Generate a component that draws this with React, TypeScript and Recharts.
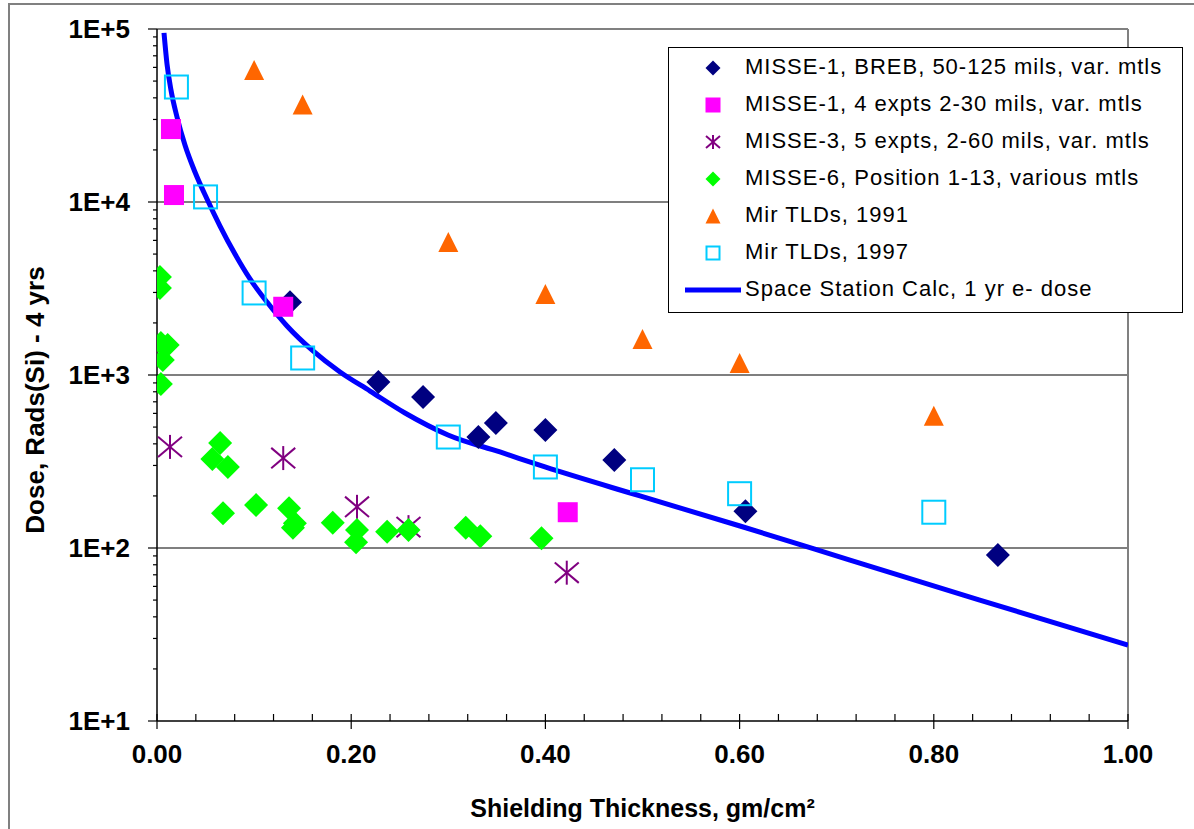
import React from "react";
import {
  ComposedChart,
  Scatter,
  Line,
  XAxis,
  YAxis,
  ReferenceLine,
} from "recharts";

// MISSE-1, BREB, 50-125 mils
const breb_x = [0.137, 0.228, 0.274, 0.331, 0.349, 0.4, 0.471, 0.606, 0.866];
const breb_y = [2630, 912, 746, 438, 528, 481, 323, 163, 91];

// MISSE-1, 4 expts 2-30 mils
const m1_x = [0.0144, 0.0175, 0.13, 0.423];
const m1_y = [26400, 10970, 2480, 161];

// MISSE-3, 5 expts
const m3_x = [0.0134, 0.13, 0.206, 0.259, 0.422];
const m3_y = [384, 331, 173, 132, 72];

// MISSE-6, position 1-13
const m6_x = [
  0.003, 0.003, 0.004, 0.011, 0.006, 0.004, 0.065, 0.057, 0.073, 0.068, 0.102,
  0.136, 0.142, 0.14, 0.181, 0.206, 0.205, 0.237, 0.259, 0.318, 0.333, 0.396,
];
const m6_y = [
  3680, 3180, 1530, 1490, 1220, 887, 404, 327, 294, 159, 177, 170, 139, 131,
  140, 127, 108, 124, 127, 131, 117, 114,
];

// Mir TLDs
const mir91_x = [0.1, 0.15, 0.3, 0.4, 0.5, 0.6, 0.8];
const mir91_y = [58000, 36600, 5870, 2940, 1615, 1173, 582];
const mir97_x = [0.02, 0.05, 0.1, 0.15, 0.3, 0.4, 0.5, 0.6, 0.8];
const mir97_y = [46200, 10700, 2980, 1254, 438, 294, 248, 206, 161];

// Space Station calc, 1 yr e- dose
const calc_x = [
  0.0072, 0.0103, 0.0144, 0.0206, 0.0288, 0.0391, 0.0515, 0.0649, 0.0803,
  0.0958, 0.1133, 0.1339, 0.1607, 0.1885, 0.2194, 0.2554, 0.2997, 0.3532,
  0.3996, 0.4974, 0.6004, 0.7137, 0.8465, 1.0,
];
const calc_y = [
  95000, 62800, 44400, 31000, 21350, 14900, 10400, 7260, 5000, 3590, 2640,
  1920, 1377, 1040, 808, 603, 450, 359, 294, 200, 134, 85.2, 50.1, 27.5,
];

const xTicks = [
  0, 0.04, 0.08, 0.12, 0.16, 0.2, 0.24, 0.28, 0.32, 0.36, 0.4, 0.44, 0.48,
  0.52, 0.56, 0.6, 0.64, 0.68, 0.72, 0.76, 0.8, 0.84, 0.88, 0.92, 0.96, 1,
];
const yTicks = [
  10, 20, 30, 40, 50, 60, 70, 80, 90, 100, 200, 300, 400, 500, 600, 700, 800,
  900, 1000, 2000, 3000, 4000, 5000, 6000, 7000, 8000, 9000, 10000, 20000,
  30000, 40000, 50000, 60000, 70000, 80000, 90000, 100000,
];
const yGrid = [100, 1000, 10000];

const FONT = "Arial, 'Liberation Sans', sans-serif";

const pts = (xs: number[], ys: number[]) => xs.map((x, i) => ({ x, y: ys[i] }));

const isMajorX = (v: number) => Math.abs(v * 5 - Math.round(v * 5)) < 1e-6;
const isMajorY = (v: number) => Math.abs(Math.log10(v) - Math.round(Math.log10(v))) < 1e-6;

function XTick(props: any) {
  const { x, y, payload } = props;
  const axisY = y - 8 - 16;
  const major = isMajorX(payload.value);
  return (
    <g>
      <line x1={x} x2={x} y1={axisY - 7} y2={major ? axisY + 8 : axisY} stroke="#000" strokeWidth={1.2} />
      {major && (
        <text x={x} y={y} dy="0.71em" textAnchor="middle" fontFamily={FONT} fontWeight="bold" fontSize={26} fill="#000">
          {payload.value.toFixed(2)}
        </text>
      )}
    </g>
  );
}

function YTick(props: any) {
  const { x, y, payload } = props;
  const axisX = x + 18 + 9;
  const major = isMajorY(payload.value);
  return (
    <g>
      <line x1={major ? axisX - 9 : axisX - 4} x2={axisX} y1={y} y2={y} stroke="#000" strokeWidth={1.2} />
      {major && (
        <text x={x} y={y} dy="0.36em" textAnchor="end" fontFamily={FONT} fontWeight="bold" fontSize={26} fill="#000">
          {"1E+" + Math.round(Math.log10(payload.value))}
        </text>
      )}
    </g>
  );
}

const Diamond = (color: string, r: number) => (p: any) => (
  <polygon
    points={`${p.cx},${p.cy - r} ${p.cx + r},${p.cy} ${p.cx},${p.cy + r} ${p.cx - r},${p.cy}`}
    fill={color}
  />
);
const Square = (color: string, s: number) => (p: any) => (
  <rect x={p.cx - s / 2} y={p.cy - s / 2} width={s} height={s} fill={color} />
);
const OpenSquare = (color: string, s: number) => (p: any) => (
  <rect x={p.cx - s / 2} y={p.cy - s / 2} width={s} height={s} fill="none" stroke={color} strokeWidth={2} />
);
const Triangle = (color: string, s: number) => (p: any) => (
  <polygon
    points={`${p.cx},${p.cy - s / 2} ${p.cx + s / 2},${p.cy + s / 2} ${p.cx - s / 2},${p.cy + s / 2}`}
    fill={color}
  />
);
const Asterisk = (color: string, r: number) => (p: any) => (
  <g stroke={color} strokeWidth={2}>
    <line x1={p.cx} x2={p.cx} y1={p.cy - r} y2={p.cy + r} />
    <line x1={p.cx - r} x2={p.cx + r} y1={p.cy - r * 0.85} y2={p.cy + r * 0.85} />
    <line x1={p.cx - r} x2={p.cx + r} y1={p.cy + r * 0.85} y2={p.cy - r * 0.85} />
  </g>
);

const legendItems = [
  { label: "MISSE-1, BREB, 50-125 mils, var. mtls", icon: Diamond("#000080", 7.5) },
  { label: "MISSE-1, 4 expts 2-30 mils, var. mtls", icon: Square("#FF00FF", 15) },
  { label: "MISSE-3, 5 expts, 2-60 mils, var. mtls", icon: Asterisk("#800080", 7) },
  { label: "MISSE-6, Position 1-13, various mtls", icon: Diamond("#00FF00", 7.5) },
  { label: "Mir TLDs, 1991", icon: Triangle("#FF6600", 15) },
  { label: "Mir TLDs, 1997", icon: OpenSquare("#00CCFF", 13) },
  { label: "Space Station Calc, 1 yr e- dose", icon: null },
];

function ChartLegend() {
  return (
    <div
      style={{
        position: "absolute",
        left: 668,
        top: 47,
        width: 513,
        height: 264,
        border: "1px solid #000",
        background: "#fff",
        fontFamily: FONT,
        fontSize: 22,
        color: "#000",
      }}
    >
      {legendItems.map((it, i) => (
        <div key={it.label} style={{ position: "absolute", left: 0, top: 2 + i * 37, height: 37, width: "100%" }}>
          <svg width={76} height={37} style={{ position: "absolute", left: 0, top: 0 }}>
            {it.icon ? (
              it.icon({ cx: 44, cy: 18 })
            ) : (
              <line x1={16} x2={72} y1={18} y2={18} stroke="#0000FF" strokeWidth={5} />
            )}
          </svg>
          <div style={{ position: "absolute", left: 76, top: 4, whiteSpace: "nowrap", letterSpacing: 1 }}>
            {it.label}
          </div>
        </div>
      ))}
    </div>
  );
}

export default function App() {
  return (
    <div style={{ position: "absolute", left: 0, top: 0, width: 1194, height: 829, overflow: "hidden", background: "#fff" }}>
      <div
        style={{
          position: "absolute",
          left: 8,
          top: 3,
          width: 1300,
          height: 1000,
          borderLeft: "2px solid #808080",
          borderTop: "2px solid #808080",
        }}
      />
      <div style={{ position: "absolute", left: 0, top: 0 }}>
        <ComposedChart width={1194} height={829} margin={{ top: 29, right: 66, bottom: 0, left: 0 }}>
          <XAxis
            type="number"
            dataKey="x"
            domain={[0, 1]}
            ticks={xTicks}
            interval={0}
            allowDataOverflow
            height={108}
            tickSize={8}
            tickMargin={16}
            tickLine={false}
            tick={<XTick />}
            axisLine={{ stroke: "#000", strokeWidth: 1.5 }}
            label={{
              value: "Shielding Thickness, gm/cm²",
              position: "insideBottom",
              offset: 12,
              fontFamily: FONT,
              fontWeight: "bold",
              fontSize: 25,
              fill: "#000",
            }}
          />
          <YAxis
            type="number"
            dataKey="y"
            scale="log"
            domain={[10, 100000]}
            ticks={yTicks}
            interval={0}
            allowDataOverflow
            width={157}
            tickSize={9}
            tickMargin={18}
            tickLine={false}
            tick={<YTick />}
            axisLine={{ stroke: "#000", strokeWidth: 1.5 }}
            label={(props: any) => {
              const vb = props.viewBox;
              const cx = vb.x + 35;
              const cy = vb.y + vb.height / 2 + 25;
              return (
                <text
                  x={cx}
                  y={cy}
                  transform={`rotate(-90, ${cx}, ${cy})`}
                  textAnchor="middle"
                  dominantBaseline="central"
                  fontFamily={FONT}
                  fontWeight="bold"
                  fontSize={26}
                  fill="#000"
                >
                  Dose, Rads(Si) - 4 yrs
                </text>
              );
            }}
          />
          {yGrid.map((v) => (
            <ReferenceLine key={v} y={v} stroke="#000" strokeWidth={1.2} />
          ))}
          <ReferenceLine y={100000} stroke="#808080" strokeWidth={2} />
          <ReferenceLine x={1} stroke="#808080" strokeWidth={2} />
          <Line
            data={pts(calc_x, calc_y)}
            dataKey="y"
            type="monotone"
            stroke="#0000FF"
            strokeWidth={5}
            dot={false}
            isAnimationActive={false}
          />
          <Scatter data={pts(breb_x, breb_y)} shape={Diamond("#000080", 12)} isAnimationActive={false} />
          <Scatter data={pts(m1_x, m1_y)} shape={Square("#FF00FF", 20)} isAnimationActive={false} />
          <Scatter data={pts(m3_x, m3_y)} shape={Asterisk("#800080", 12)} isAnimationActive={false} />
          <Scatter data={pts(m6_x, m6_y)} shape={Diamond("#00FF00", 12)} isAnimationActive={false} />
          <Scatter data={pts(mir91_x, mir91_y)} shape={Triangle("#FF6600", 20)} isAnimationActive={false} />
          <Scatter data={pts(mir97_x, mir97_y)} shape={OpenSquare("#00CCFF", 23)} isAnimationActive={false} />
        </ComposedChart>
      </div>
      <ChartLegend />
    </div>
  );
}
